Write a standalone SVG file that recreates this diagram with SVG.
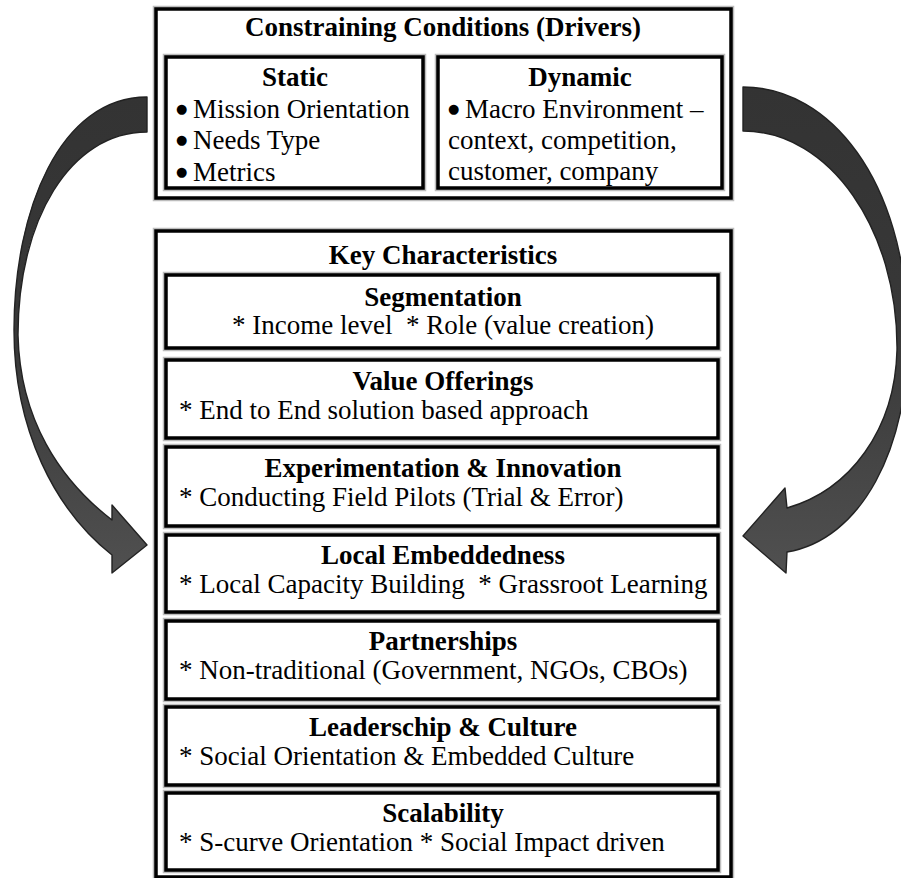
<svg xmlns="http://www.w3.org/2000/svg" width="901" height="878" viewBox="0 0 901 878">
<style>
.box{fill:#fff;stroke:#000;stroke-width:3.5}
.halo{fill:none;stroke:#bdbdbd;stroke-width:6.5}
.h{font-family:"Liberation Serif","Times New Roman",serif;font-size:27px;font-weight:bold;text-anchor:middle;fill:#000}
.t{font-family:"Liberation Serif","Times New Roman",serif;font-size:27px;fill:#000;white-space:pre}
.c{text-anchor:middle}
.bul{font-family:"DejaVu Sans",sans-serif;font-size:13px;fill:#000}
.arrow{stroke:#222;stroke-width:1.4;stroke-linejoin:round}
</style>
<defs>
<linearGradient id="ag" x1="0" y1="0" x2="0" y2="1">
<stop offset="0" stop-color="#333"/>
<stop offset="0.5" stop-color="#383838"/>
<stop offset="1" stop-color="#505050"/>
</linearGradient>
</defs>
<rect width="901" height="878" fill="#fff"/>
<g id="connectors">
<path class="arrow" fill="url(#ag)" d="M147,97 C60,97 14,210 14,330 C14,430 55,510 112,555 L112,573 L147,545 L112,505 L112,520 C60,480 20,420 18,335 C18,220 70,132 147,132 Z"/>
<path class="arrow" fill="url(#ag)" d="M743,87 C830,87 905,180 908,330 C910,450 860,540 787,552 L786,573 L743,536 L785,488 L787,508 C850,490 895,430 897,350 C898,230 830,131 743,131 Z"/>
</g>
<g id="constraining">
<rect class="halo" x="156" y="9" width="575" height="189"/>
<rect class="box" x="156" y="9" width="575" height="189"/>
<text class="h" x="443" y="36">Constraining Conditions (Drivers)</text>
</g>
<g id="static">
<rect class="halo" x="166" y="57" width="257" height="131"/>
<rect class="box" x="166" y="57" width="257" height="131"/>
<text class="h" x="295" y="86">Static</text>
<text class="bul" x="176" y="113">●</text><text class="t" x="193" y="118">Mission Orientation</text>
<text class="bul" x="176" y="144">●</text><text class="t" x="193" y="149">Needs Type</text>
<text class="bul" x="176" y="176">●</text><text class="t" x="193" y="181">Metrics</text>
</g>
<g id="dynamic">
<rect class="halo" x="438" y="57" width="284" height="131"/>
<rect class="box" x="438" y="57" width="284" height="131"/>
<text class="h" x="580" y="86">Dynamic</text>
<text class="bul" x="448" y="113">●</text><text class="t" x="465" y="118">Macro Environment –</text>
<text class="t" x="448" y="149">context, competition,</text>
<text class="t" x="448" y="180">customer, company</text>
</g>
<g id="key-characteristics">
<rect class="halo" x="156" y="231" width="575" height="646"/>
<rect class="box" x="156" y="231" width="575" height="646"/>
<text class="h" x="443" y="264">Key Characteristics</text>
</g>
<g id="segmentation">
<rect class="halo" x="166" y="275" width="552" height="73"/>
<rect class="box" x="166" y="275" width="552" height="73"/>
<text class="h" x="443" y="306">Segmentation</text>
<text class="t c" x="443" y="334">* Income level  * Role (value creation)</text>
</g>
<g id="value-offerings">
<rect class="halo" x="166" y="360" width="552" height="78"/>
<rect class="box" x="166" y="360" width="552" height="78"/>
<text class="h" x="443" y="390">Value Offerings</text>
<text class="t" x="179" y="419">* End to End solution based approach</text>
</g>
<g id="experimentation">
<rect class="halo" x="166" y="447" width="552" height="79"/>
<rect class="box" x="166" y="447" width="552" height="79"/>
<text class="h" x="443" y="477">Experimentation &amp; Innovation</text>
<text class="t" x="179" y="506">* Conducting Field Pilots (Trial &amp; Error)</text>
</g>
<g id="local-embeddedness">
<rect class="halo" x="166" y="535" width="552" height="77"/>
<rect class="box" x="166" y="535" width="552" height="77"/>
<text class="h" x="443" y="564">Local Embeddedness</text>
<text class="t" x="179" y="593">* Local Capacity Building  * Grassroot Learning</text>
</g>
<g id="partnerships">
<rect class="halo" x="166" y="621" width="552" height="78"/>
<rect class="box" x="166" y="621" width="552" height="78"/>
<text class="h" x="443" y="650">Partnerships</text>
<text class="t" x="179" y="679">* Non-traditional (Government, NGOs, CBOs)</text>
</g>
<g id="leadership">
<rect class="halo" x="166" y="707" width="552" height="78"/>
<rect class="box" x="166" y="707" width="552" height="78"/>
<text class="h" x="443" y="736">Leaderschip &amp; Culture</text>
<text class="t" x="179" y="765">* Social Orientation &amp; Embedded Culture</text>
</g>
<g id="scalability">
<rect class="halo" x="166" y="793" width="552" height="77"/>
<rect class="box" x="166" y="793" width="552" height="77"/>
<text class="h" x="443" y="822">Scalability</text>
<text class="t" x="179" y="851">* S-curve Orientation * Social Impact driven</text>
</g>
</svg>
